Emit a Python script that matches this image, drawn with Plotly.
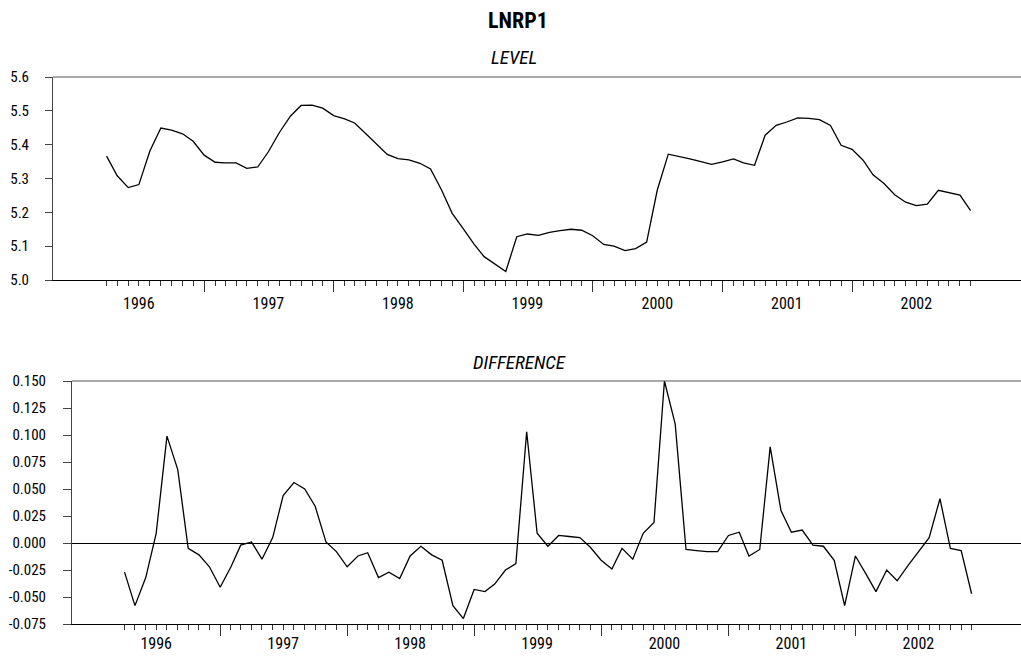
import pandas as pd
import plotly.graph_objects as go

# ---- data (monthly, Apr 1996 - Dec 2002) ----
months = pd.date_range("1996-04-01", "2002-12-01", freq="MS")

level = [
    5.366, 5.308, 5.273, 5.282, 5.381, 5.449, 5.443, 5.432, 5.410,
    5.369, 5.348, 5.346, 5.346, 5.330, 5.334, 5.379, 5.436, 5.484, 5.516, 5.517, 5.508,
    5.486, 5.476, 5.464, 5.433, 5.403, 5.371, 5.359, 5.355, 5.345, 5.328, 5.266, 5.197,
    5.152, 5.105, 5.069, 5.046, 5.025, 5.128, 5.136, 5.132, 5.141, 5.146, 5.150, 5.147,
    5.131, 5.105, 5.100, 5.087, 5.093, 5.112, 5.266, 5.372, 5.366, 5.358, 5.350, 5.342,
    5.349, 5.358, 5.346, 5.339, 5.428, 5.457, 5.467, 5.479, 5.478, 5.474, 5.457, 5.398,
    5.386, 5.354, 5.311, 5.285, 5.252, 5.230, 5.220, 5.224, 5.265, 5.259, 5.251, 5.205,
]

difference = [
    -0.027, -0.058, -0.032, 0.009, 0.099, 0.068, -0.005, -0.011, -0.022,
    -0.041, -0.022, -0.002, 0.001, -0.015, 0.005, 0.044, 0.056, 0.050, 0.034, 0.001, -0.008,
    -0.022, -0.012, -0.009, -0.032, -0.027, -0.033, -0.012, -0.003, -0.011, -0.016, -0.058, -0.070,
    -0.043, -0.045, -0.038, -0.025, -0.019, 0.103, 0.009, -0.003, 0.007, 0.006, 0.005, -0.004,
    -0.016, -0.024, -0.005, -0.015, 0.009, 0.019, 0.150, 0.110, -0.006, -0.007, -0.008, -0.008,
    0.007, 0.010, -0.012, -0.006, 0.089, 0.030, 0.010, 0.012, -0.002, -0.003, -0.016, -0.058,
    -0.012, -0.029, -0.045, -0.025, -0.035, -0.021, -0.008, 0.005, 0.041, -0.005, -0.007, -0.047,
]

level_ticks = [5.0, 5.1, 5.2, 5.3, 5.4, 5.5, 5.6]
level_ticktext = ["5.0", "5.1", "5.2", "5.3", "5.4", "5.5", "5.6"]
diff_ticks = [-0.075, -0.050, -0.025, 0.0, 0.025, 0.050, 0.075, 0.100, 0.125, 0.150]
diff_ticktext = ["-0.075", "-0.050", "-0.025", "0.000", "0.025", "0.050",
                 "0.075", "0.100", "0.125", "0.150"]

title_text = "LNRP1"
sub1 = "LEVEL"
sub2 = "DIFFERENCE"

# ---- layout helpers ----
W, H = 1021, 656
FONT = "Liberation Sans Narrow, Arial Narrow, Roboto Condensed, DejaVu Sans Condensed, sans-serif"


def py(px):
    return 1 - px / H


month_ticks = [m for m in months if m.month != 1]
month_text = [str(m.year) if m.month == 7 else "" for m in month_ticks]
year_ticks = [m for m in months if m.month == 1]
x_range = ["1995-11-02", "2003-04-22"]

fig = go.Figure()
fig.add_trace(go.Scatter(x=months, y=level, mode="lines",
                         line=dict(color="black", width=1.3),
                         xaxis="x", yaxis="y", showlegend=False))
fig.add_trace(go.Scatter(x=months, y=difference, mode="lines",
                         line=dict(color="black", width=1.3),
                         xaxis="x2", yaxis="y2", showlegend=False))


def xaxis_cfg(domain, anchor, standoff):
    return dict(
        domain=domain, anchor=anchor, type="date", range=x_range,
        showgrid=False, zeroline=False, showline=True, linecolor="black", linewidth=1,
        tickmode="array", tickvals=month_ticks, ticktext=month_text,
        ticks="outside", ticklen=5, tickwidth=1, tickcolor="#333",
        ticklabelstandoff=standoff,
        tickfont=dict(family=FONT, size=16, color="black"),
        minor=dict(tickmode="array", tickvals=year_ticks, ticks="outside",
                   ticklen=11, tickwidth=1, tickcolor="#333", showgrid=False),
        automargin=False, fixedrange=True,
    )


def yaxis_cfg(domain, anchor, rng, tv, tt, ticklen, zeroline, standoff):
    return dict(
        domain=domain, anchor=anchor, range=rng,
        showgrid=False, zeroline=zeroline, zerolinecolor="black", zerolinewidth=1,
        showline=True, linecolor="#444", linewidth=1,
        tickmode="array", tickvals=tv, ticktext=tt,
        ticks="outside", ticklen=ticklen, tickwidth=1, tickcolor="#444",
        ticklabelstandoff=standoff,
        tickfont=dict(family=FONT, size=15, color="black"),
        automargin=False, fixedrange=True,
    )


fig.update_layout(
    width=W, height=H,
    margin=dict(l=0, r=0, t=0, b=0),
    paper_bgcolor="white", plot_bgcolor="white",
    xaxis=xaxis_cfg([53 / W, 1], "y", 4),
    yaxis=yaxis_cfg([py(280), py(77)], "x", [5.0, 5.6], level_ticks, level_ticktext, 7, False, 13),
    xaxis2=xaxis_cfg([72 / W, 1], "y2", 0),
    yaxis2=yaxis_cfg([py(624), py(381)], "x2", [-0.075, 0.150], diff_ticks, diff_ticktext, 8, True, 14),
    annotations=[
        dict(text="<b>" + title_text + "</b>", x=518 / W, y=py(20), xref="paper", yref="paper",
             xanchor="center", yanchor="middle", showarrow=False,
             font=dict(family=FONT, size=22, color="black")),
        dict(text="<i>" + sub1 + "</i>", x=514 / W, y=py(57), xref="paper", yref="paper",
             xanchor="center", yanchor="middle", showarrow=False,
             font=dict(family=FONT, size=19, color="black")),
        dict(text="<i>" + sub2 + "</i>", x=519 / W, y=py(362), xref="paper", yref="paper",
             xanchor="center", yanchor="middle", showarrow=False,
             font=dict(family=FONT, size=19, color="black")),
    ],
    shapes=[
        dict(type="line", xref="x domain", yref="y domain", x0=0, x1=1, y0=1, y1=1,
             line=dict(color="#555", width=1)),
        dict(type="line", xref="x2 domain", yref="y2 domain", x0=0, x1=1, y0=1, y1=1,
             line=dict(color="#555", width=1)),
    ],
)

fig.write_html("out.html",
               config={"displayModeBar": False},
               post_script="document.body.style.margin='0';document.body.style.overflow='hidden';")
